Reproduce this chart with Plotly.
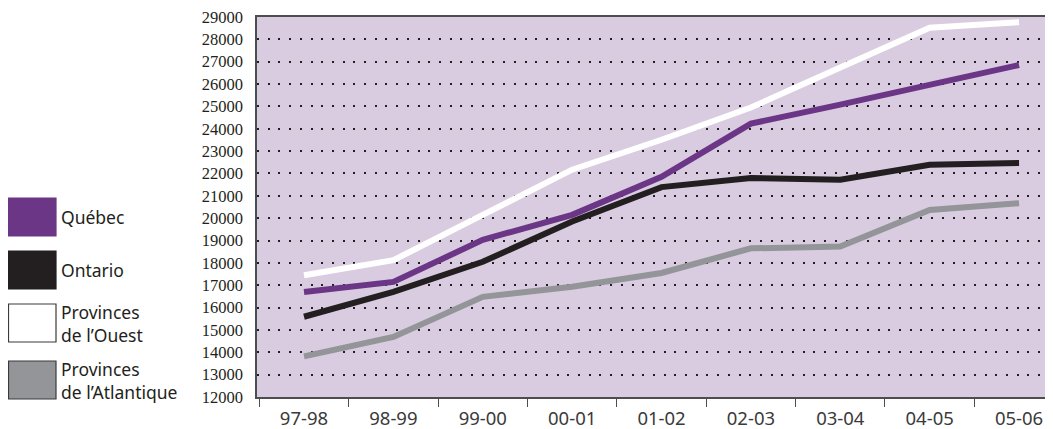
import plotly.graph_objects as go

# years on the x axis
years = ["97-98", "98-99", "99-00", "00-01", "01-02", "02-03", "03-04", "04-05", "05-06"]

# values
quebec = [16700, 17150, 19030, 20150, 21850, 24230, 25080, 25950, 26850]
ontario = [15590, 16700, 18050, 19850, 21390, 21800, 21720, 22390, 22470]
ouest = [17450, 18120, 20150, 22170, 23510, 24950, 26740, 28520, 28770]
atlantique = [13820, 14690, 16480, 16930, 17550, 18650, 18730, 20370, 20670]

series_names = ["Québec", "Ontario", "Provinces<br>de l’Ouest", "Provinces<br>de l’Atlantique"]
series_colors = ["#6c3687", "#231f20", "#ffffff", "#939598"]

# page body adds an 8px margin, so the figure is 8px smaller than the window
W, H = 1045, 421
ML, MT, MB = 249, 9, 32
PW, PH = W - ML, H - MT - MB


def make_fig():
    fig = go.Figure()

    # draw order: grey, white, black, purple
    for vals, color in [(atlantique, series_colors[3]), (ouest, series_colors[2]),
                        (ontario, series_colors[1]), (quebec, series_colors[0])]:
        fig.add_trace(
            go.Scatter(
                x=years,
                y=vals,
                mode="lines",
                line=dict(color=color, width=6),
                showlegend=False,
                hoverinfo="skip",
            )
        )

    # hand-made legend in the left margin (boxes + labels)
    bottom = MT + PH
    box_tops = [190, 243, 296, 353]
    for i, name in enumerate(series_names):
        top = box_tops[i]
        fig.add_shape(
            type="rect",
            xref="paper", yref="paper",
            x0=(0.5 - ML) / PW, x1=(48 - ML) / PW,
            y0=(bottom - top - 38) / PH, y1=(bottom - top) / PH,
            fillcolor=series_colors[i],
            line=dict(color="#3a3a3a" if i >= 2 else series_colors[i], width=1.2),
        )
        fig.add_annotation(
            xref="paper", yref="paper",
            x=(51 - ML) / PW,
            y=(bottom - top - 19) / PH,
            xanchor="left", yanchor="middle",
            text=name,
            showarrow=False,
            align="left",
            font=dict(family="Noto Sans", size=17.5, color="#231f20"),
        )

    fig.update_layout(
        width=W,
        height=H,
        margin=dict(l=ML, r=0, t=MT, b=MB, autoexpand=False),
        paper_bgcolor="white",
        plot_bgcolor="#d9cbe0",
        showlegend=False,
    )

    fig.update_xaxes(
        type="category",
        range=[-0.526, 8.38],
        showgrid=False,
        showline=True,
        linecolor="#4d4d4f",
        linewidth=1.5,
        mirror=True,
        ticks="outside",
        tickson="boundaries",
        ticklen=8,
        tickcolor="#4d4d4f",
        tickwidth=1.2,
        ticklabelstandoff=4,
        ticklabeloverflow="allow",
        tickfont=dict(family="Noto Sans", size=18.5, color="#3a3a3a"),
    )

    fig.update_yaxes(
        range=[12000, 29000],
        dtick=1000,
        tickformat="d",
        showline=True,
        linecolor="#4d4d4f",
        linewidth=1.5,
        showgrid=True,
        gridcolor="#231f20",
        gridwidth=2,
        griddash="2px,8.7px",
        zeroline=False,
        ticks="",
        ticklabelstandoff=9,
        ticklabeloverflow="allow",
        tickfont=dict(family="Liberation Serif", size=16.5, color="#231f20"),
    )

    return fig


if __name__ == "__main__":
    fig = make_fig()
    fig.write_html("out.html")
